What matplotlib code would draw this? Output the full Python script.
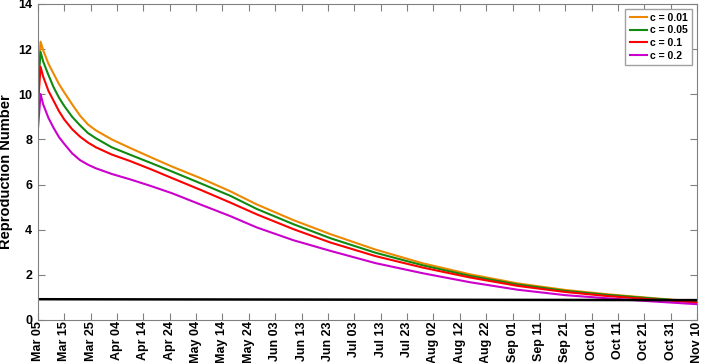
import numpy as np
import pandas as pd
import matplotlib
matplotlib.use('Agg')
import matplotlib.pyplot as plt

plt.rcParams['font.family'] = ['Liberation Sans', 'DejaVu Sans']
plt.rcParams['font.weight'] = 'bold'

# days since Mar 05 (2020)
days = [0, 1, 2, 4, 6, 8, 10, 13, 16, 19, 22, 28, 35, 43, 51, 62, 73, 83,
        97, 111, 128, 146, 164, 182, 200, 216, 232, 250]

r_c001 = [10.45, 12.33, 11.95, 11.35, 10.9, 10.45, 10.08, 9.55, 9.05, 8.66, 8.4,
          8.0, 7.62, 7.2, 6.79, 6.27, 5.7, 5.12, 4.42, 3.8, 3.12, 2.51, 2.02,
          1.62, 1.33, 1.14, 0.98, 0.81]
r_c005 = [10.2, 11.88, 11.45, 10.85, 10.3, 9.85, 9.48, 9.0, 8.62, 8.28, 8.05,
          7.65, 7.32, 6.95, 6.57, 6.04, 5.5, 4.92, 4.24, 3.62, 2.98, 2.42, 1.95,
          1.57, 1.29, 1.11, 0.96, 0.80]
r_c01 = [9.45, 11.22, 10.78, 10.15, 9.7, 9.25, 8.88, 8.45, 8.12, 7.86, 7.65,
         7.33, 7.04, 6.67, 6.28, 5.75, 5.2, 4.68, 4.02, 3.43, 2.83, 2.32, 1.88,
         1.51, 1.24, 1.06, 0.92, 0.77]
r_c02 = [8.45, 10.01, 9.55, 8.95, 8.5, 8.1, 7.8, 7.38, 7.08, 6.88, 6.72,
         6.47, 6.23, 5.93, 5.61, 5.1, 4.6, 4.1, 3.53, 3.06, 2.52, 2.07, 1.67,
         1.34, 1.1, 0.96, 0.83, 0.70]

# black reference line
ref_days = [0, 250]
ref_vals = [0.92, 0.88]

labels = ['c = 0.01', 'c = 0.05', 'c = 0.1', 'c = 0.2']
colors = ['#EE8800', '#108A10', '#FF0000', '#CC00CC']

start = pd.Timestamp('2020-03-05')
dates = start + pd.to_timedelta(days, unit='D')
ref_dates = start + pd.to_timedelta(ref_days, unit='D')
ticks = pd.date_range(start, periods=26, freq='10D')

fig = plt.figure(figsize=(7.02, 3.63), dpi=100)
ax = fig.add_axes([0.054, 0.1185, 0.939, 0.8705])

for vals, lab, col in zip([r_c001, r_c005, r_c01, r_c02], labels, colors):
    ax.plot(dates, vals, color=col, lw=1.5, label=lab)
ax.plot(ref_dates, ref_vals, color='black', lw=1.8)

ax.set_xlim(ticks[0], ticks[-1])
ax.set_ylim(0, 14)
ax.set_xticks(ticks)
ax.set_xticklabels([t.strftime('%b %d') for t in ticks], rotation=90,
                   fontsize=9, fontweight='bold')
ax.set_yticks(range(0, 15, 2))
ax.set_yticklabels([str(v) for v in range(0, 15, 2)], fontsize=9, fontweight='bold')
ax.tick_params(direction='in', top=True, right=True, length=5, color='#808080')
ax.tick_params(axis='x', pad=1)
ax.tick_params(axis='y', pad=4)
for s in ax.spines.values():
    s.set_color('#808080')
ax.set_ylabel('Reproduction Number', fontsize=10.5, fontweight='bold')
ax.yaxis.set_label_coords(-0.038, 0.47)

leg = ax.legend(loc='upper right', fontsize=7.5, handlelength=1.7,
                borderaxespad=0.45, fancybox=False, framealpha=1,
                edgecolor='#A0A0A0', labelspacing=0.25, handletextpad=0.3,
                borderpad=0.4)
for t in leg.get_texts():
    t.set_fontweight('bold')

fig.savefig('out.png', dpi=100)
